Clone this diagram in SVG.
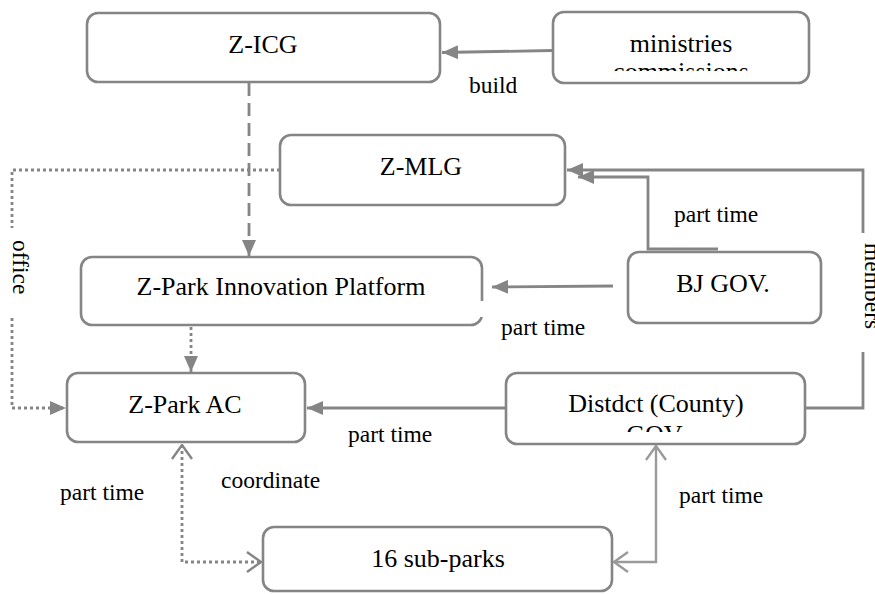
<svg xmlns="http://www.w3.org/2000/svg" width="875" height="594" viewBox="0 0 875 594">
<style>
.box{fill:#fff;stroke:#858585;stroke-width:2.6}
.nt{font-family:'Liberation Serif','Times New Roman',Times,serif;font-size:26px;fill:#000;text-anchor:middle}
.et{font-family:'Liberation Serif','Times New Roman',Times,serif;font-size:23.5px;fill:#000}
.ln{fill:none;stroke:#858585;stroke-width:2.8}
.dash{stroke-dasharray:13 7}
.dot{stroke-dasharray:3 3}
.light{stroke:#9a9a9a;stroke-width:2.4}
</style>
<defs>
<marker id="tri" markerUnits="userSpaceOnUse" viewBox="0 0 16 14" refX="16" refY="7" markerWidth="16" markerHeight="14" orient="auto">
<path d="M0,0 L16,7 L0,14 z" fill="#858585"/>
</marker>
<marker id="open" markerUnits="userSpaceOnUse" viewBox="0 0 16 22" refX="15" refY="11" markerWidth="16" markerHeight="22" orient="auto-start-reverse">
<path d="M1,1 L15,11 L1,21" fill="none" stroke="#858585" stroke-width="2.4"/>
</marker>
<marker id="openL" markerUnits="userSpaceOnUse" viewBox="0 0 16 22" refX="15" refY="11" markerWidth="16" markerHeight="22" orient="auto-start-reverse">
<path d="M1,1 L15,11 L1,21" fill="none" stroke="#9a9a9a" stroke-width="2.4"/>
</marker>
<clipPath id="clipMin"><rect x="553" y="12" width="256" height="59"/></clipPath>
<clipPath id="clipDist"><rect x="506" y="373" width="299" height="59"/></clipPath>
</defs>

<g id="connectors">
<path class="ln" d="M553,50.5 L442,52.5" marker-end="url(#tri)"/>
<path class="ln dash" d="M249,83 L249,256" marker-end="url(#tri)"/>
<path class="ln dot" d="M280,170 L12,170 L12,228"/>
<path class="ln dot" d="M12,318 L12,408 L66,408" marker-end="url(#tri)"/>
<path class="ln dot" d="M191,327 L191,372" marker-end="url(#tri)"/>
<path class="ln" d="M805,408 L863,408 L863,352"/>
<path class="ln" d="M863,233 L863,170 L567,170" marker-end="url(#tri)"/>
<path class="ln" d="M718,249 L648,249 L648,177 L578,177" marker-end="url(#tri)"/>
<path class="ln" d="M613,286 L492,287" marker-end="url(#tri)"/>
<path class="ln" d="M505,408 L307,408" marker-end="url(#tri)"/>
<path class="ln dot" d="M182,445 L182,562 L261,562" marker-start="url(#open)" marker-end="url(#open)"/>
<path class="ln light" d="M656,446 L656,562 L614,562" marker-start="url(#openL)" marker-end="url(#openL)"/>
<text class="et" x="469" y="93">build</text>
<text class="et" x="674" y="222">part time</text>
<text class="et" x="501" y="335">part time</text>
<text class="et" x="348" y="442">part time</text>
<text class="et" x="221" y="488">coordinate</text>
<text class="et" x="60" y="500">part time</text>
<text class="et" x="679" y="503">part time</text>
<text class="et" transform="translate(13,240) rotate(90)">office</text>
<text class="et" transform="translate(865,243) rotate(90)">members</text>
</g>

<g id="z-icg">
<rect class="box" x="87" y="13" width="353" height="69" rx="11"/>
<text class="nt" x="263" y="53">Z-ICG</text>
</g>

<g id="ministries">
<rect class="box" x="553" y="12" width="256" height="71" rx="11"/>
<text class="nt" x="681" y="52">ministries</text>
<text class="nt" x="681" y="80" clip-path="url(#clipMin)">commissions</text>
</g>

<g id="z-mlg">
<rect class="box" x="280" y="135" width="285" height="70" rx="11"/>
<text class="nt" x="421" y="175">Z-MLG</text>
</g>

<g id="platform">
<rect class="box" x="81" y="257" width="401" height="68" rx="11"/>
<rect x="479" y="301" width="7" height="16" fill="#fff"/>
<text class="nt" x="281" y="295">Z-Park Innovation Platform</text>
</g>

<g id="bj-gov">
<rect class="box" x="628" y="252" width="193" height="71" rx="11"/>
<text class="nt" x="723" y="292">BJ GOV.</text>
</g>

<g id="z-park-ac">
<rect class="box" x="67" y="373" width="238" height="69" rx="11"/>
<text class="nt" x="185" y="413">Z-Park AC</text>
</g>

<g id="district">
<rect class="box" x="506" y="373" width="299" height="71" rx="11"/>
<text class="nt" x="656" y="412">Distdct (County)</text>
<text class="nt" x="656" y="443" clip-path="url(#clipDist)">GOV.</text>
</g>

<g id="sub-parks">
<rect class="box" x="263" y="527" width="349" height="64" rx="11"/>
<text class="nt" x="438" y="567">16 sub-parks</text>
</g>
</svg>
